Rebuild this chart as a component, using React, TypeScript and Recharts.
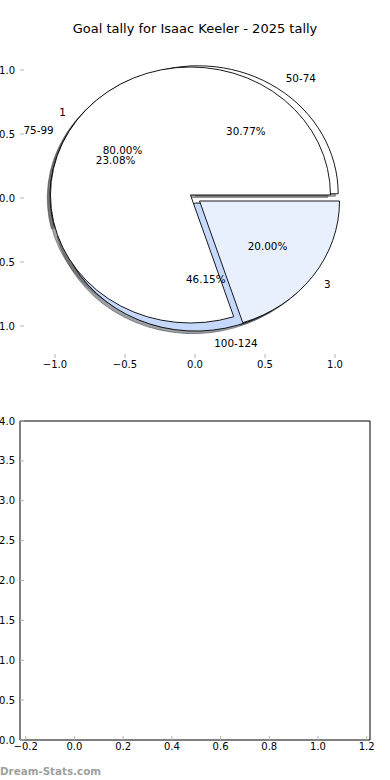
import React from 'react';
import { PieChart, Pie, ScatterChart, Scatter, XAxis, YAxis } from 'recharts';

// ---- data ----
const pieOneLabels = ['50-74', '75-99', '100-124'];
const pieOneValues = [4, 3, 6];
const pieOneColors = ['#ffffff', '#ffffff', '#c6d9fc'];
const pieOneExplode = [0.04, 0.04, 0.04];

const pieTwoLabels = ['1', '3'];
const pieTwoValues = [4, 1];
const pieTwoColors = ['#ffffff', '#e9f0fd'];
const pieTwoExplode = [0.04, 0.04];

const pieAxisTicks = [-1, -0.5, 0, 0.5, 1];
const lowerXTicks = [-0.2, 0, 0.2, 0.4, 0.6, 0.8, 1.0, 1.2];
const lowerYTicks = [0, 0.5, 1, 1.5, 2, 2.5, 3, 3.5, 4];
const lowerPoints: { x: number; y: number }[] = [];

const titleText = 'Goal tally for Isaac Keeler - 2025 tally';
const watermark = 'Dream-Stats.com';

// ---- derived rows ----
const pieOneRows = pieOneLabels.map((n, i) => ({ name: n, value: pieOneValues[i], color: pieOneColors[i], explode: pieOneExplode[i] }));
const pieTwoRows = pieTwoLabels.map((n, i) => ({ name: n, value: pieTwoValues[i], color: pieTwoColors[i], explode: pieTwoExplode[i] }));

const FONT = 'DejaVu Sans';
const K = 128 / 140; // vertical / horizontal scale of the pie axes
const RAD = Math.PI / 180;
const TICK_COLOR = '#b4b4b4';

const fmt = (v: number) => (v < 0 ? '\u2212' : '') + Math.abs(v).toFixed(1);

function wedgePath(cx: number, cy: number, R: number, start: number, end: number) {
  const Ry = R * K;
  const s = start * RAD;
  const e = end * RAD;
  const x1 = cx + R * Math.cos(s);
  const y1 = cy - Ry * Math.sin(s);
  const x2 = cx + R * Math.cos(e);
  const y2 = cy - Ry * Math.sin(e);
  const large = Math.abs(end - start) > 180 ? 1 : 0;
  return `M${cx},${cy} L${x1},${y1} A${R},${Ry} 0 ${large} 0 ${x2},${y2} Z`;
}

function shade(hex: string) {
  const n = parseInt(hex.slice(1), 16);
  const r = Math.round(((n >> 16) & 255) * 0.3);
  const g = Math.round(((n >> 8) & 255) * 0.3);
  const b = Math.round((n & 255) * 0.3);
  return `rgb(${r},${g},${b})`;
}

function getRow(p: any) {
  const pl = p.payload && p.payload.payload ? p.payload.payload : p.payload || {};
  return {
    explode: p.explode ?? pl.explode ?? 0,
    color: p.color ?? pl.color ?? '#ffffff',
  };
}

const makeWedge = (kind: 'shadow' | 'face') => (p: any) => {
  const { explode, color } = getRow(p);
  const mid = (p.midAngle ?? (p.startAngle + p.endAngle) / 2) * RAD;
  const R = p.outerRadius;
  let cx = p.cx + explode * R * Math.cos(mid);
  let cy = p.cy - explode * R * K * Math.sin(mid);
  if (kind === 'shadow') {
    cx += -0.02 * R;
    cy += 0.02 * R * K;
    const c = shade(color);
    return <path d={wedgePath(cx, cy, R, p.startAngle, p.endAngle)} fill={c} stroke={c} fillOpacity={0.5} strokeOpacity={0.5} strokeWidth={1} />;
  }
  return <path d={wedgePath(cx, cy, R, p.startAngle, p.endAngle)} fill={color} stroke="#000" strokeWidth={0.9} />;
};

const emptyShape = () => <g />;

const renderLabels = (p: any) => {
  const { explode } = getRow(p);
  const mid = (p.midAngle ?? (p.startAngle + p.endAngle) / 2) * RAD;
  const R = p.outerRadius;
  const c = Math.cos(mid);
  const s = Math.sin(mid);
  const lx = p.cx + (explode + 1.1) * R * c;
  const ly = p.cy - (explode + 1.1) * R * K * s;
  const px = p.cx + (explode + 0.6) * R * c;
  const py = p.cy - (explode + 0.6) * R * K * s;
  return (
    <g>
      <text x={lx} y={ly} textAnchor={c > 0 ? 'start' : 'end'} dominantBaseline="central" fontSize={10.4} fontFamily={FONT} fill="#000">
        {p.name}
      </text>
      <text x={px} y={py} textAnchor="middle" dominantBaseline="central" fontSize={10.4} fontFamily={FONT} fill="#000">
        {(p.percent * 100).toFixed(2) + '%'}
      </text>
    </g>
  );
};

const tickText = { fill: '#000', fontSize: 10, fontFamily: FONT };

export default function App() {
  const pieCommon = {
    dataKey: 'value',
    nameKey: 'name',
    cx: 195,
    cy: 198,
    outerRadius: 140,
    innerRadius: 0,
    startAngle: 0,
    endAngle: 360,
    isAnimationActive: false,
    labelLine: false,
  } as any;

  return (
    <div style={{ position: 'absolute', left: 0, top: 0, width: 390, height: 780, background: '#fff', overflow: 'hidden' }}>
      {/* axes of the pie panel */}
      <div style={{ position: 'absolute', left: 0, top: 0 }}>
        <ScatterChart width={390} height={400} margin={{ top: 28, right: 0, bottom: 12, left: 0 }}>
          <XAxis xAxisId="b" type="number" dataKey="x" domain={[-1.25, 1.25]} allowDataOverflow ticks={pieAxisTicks} interval={0}
            height={30} axisLine={false} tickSize={-4} tickMargin={6.5} tickLine={{ stroke: TICK_COLOR }} tick={tickText} tickFormatter={fmt} />
          <XAxis xAxisId="t" orientation="top" type="number" dataKey="x" domain={[-1.25, 1.25]} allowDataOverflow ticks={pieAxisTicks} interval={0}
            height={10} axisLine={false} tickSize={-4} tickLine={{ stroke: TICK_COLOR }} tick={false} />
          <YAxis yAxisId="l" type="number" dataKey="y" domain={[-1.25, 1.25]} allowDataOverflow ticks={pieAxisTicks} interval={0}
            width={20} axisLine={false} tickSize={-4} tickMargin={9} tickLine={{ stroke: TICK_COLOR }} tick={tickText} tickFormatter={fmt} />
          <YAxis yAxisId="r" orientation="right" type="number" dataKey="y" domain={[-1.25, 1.25]} allowDataOverflow ticks={pieAxisTicks} interval={0}
            width={20} axisLine={false} tickSize={-4} tickLine={{ stroke: TICK_COLOR }} tick={false} />
          <Scatter xAxisId="b" yAxisId="l" data={lowerPoints} isAnimationActive={false} />
          <Scatter xAxisId="t" yAxisId="r" data={lowerPoints} isAnimationActive={false} />
        </ScatterChart>
      </div>

      {/* the two pies */}
      <div style={{ position: 'absolute', left: 0, top: 0 }}>
        <PieChart width={390} height={400} margin={{ top: 0, right: 0, bottom: 0, left: 0 }}>
          <Pie {...pieCommon} data={pieOneRows} shape={makeWedge('shadow')} fill="none" stroke="none" />
          <Pie {...pieCommon} data={pieTwoRows} shape={makeWedge('shadow')} fill="none" stroke="none" />
          <Pie {...pieCommon} data={pieOneRows} shape={makeWedge('face')} fill="none" stroke="none" />
          <Pie {...pieCommon} data={pieTwoRows} shape={makeWedge('face')} fill="none" stroke="none" />
          <Pie {...pieCommon} data={pieOneRows} shape={emptyShape} fill="none" stroke="none" label={renderLabels} />
          <Pie {...pieCommon} data={pieTwoRows} shape={emptyShape} fill="none" stroke="none" label={renderLabels} />
        </PieChart>
      </div>

      {/* the empty lower panel */}
      <div style={{ position: 'absolute', left: 0, top: 400 }}>
        <ScatterChart width={390} height={380} margin={{ top: 11, right: 0, bottom: 10, left: 0 }}>
          <XAxis xAxisId="b" type="number" dataKey="x" domain={[-0.2234, 1.2135]} allowDataOverflow ticks={lowerXTicks} interval={0}
            height={30} axisLine={{ stroke: '#000' }} tickSize={-4} tickMargin={7} tickLine={{ stroke: TICK_COLOR }} tick={tickText} tickFormatter={fmt} />
          <XAxis xAxisId="t" orientation="top" type="number" dataKey="x" domain={[-0.2234, 1.2135]} allowDataOverflow ticks={lowerXTicks} interval={0}
            height={10} axisLine={{ stroke: '#000' }} tickSize={-4} tickLine={{ stroke: TICK_COLOR }} tick={false} />
          <YAxis yAxisId="l" type="number" dataKey="y" domain={[0, 4]} allowDataOverflow ticks={lowerYTicks} interval={0}
            width={20} axisLine={{ stroke: '#000' }} tickSize={-4} tickMargin={9} tickLine={{ stroke: TICK_COLOR }} tick={tickText} tickFormatter={fmt} />
          <YAxis yAxisId="r" orientation="right" type="number" dataKey="y" domain={[0, 4]} allowDataOverflow ticks={lowerYTicks} interval={0}
            width={20} axisLine={{ stroke: '#000' }} tickSize={-4} tickLine={{ stroke: TICK_COLOR }} tick={false} />
          <Scatter xAxisId="b" yAxisId="l" data={lowerPoints} isAnimationActive={false} />
          <Scatter xAxisId="t" yAxisId="r" data={lowerPoints} isAnimationActive={false} />
        </ScatterChart>
      </div>

      <svg style={{ position: 'absolute', left: 0, top: 0, pointerEvents: 'none' }} width={390} height={780}>
        <text x={195} y={33} textAnchor="middle" fontSize={13} fontFamily={FONT} fill="#000">{titleText}</text>
        <text x={0} y={775} fontSize={11} fontWeight="bold" fontFamily={FONT} fill="#a0a0a0" textLength={101} lengthAdjust="spacingAndGlyphs">{watermark}</text>
      </svg>
    </div>
  );
}
